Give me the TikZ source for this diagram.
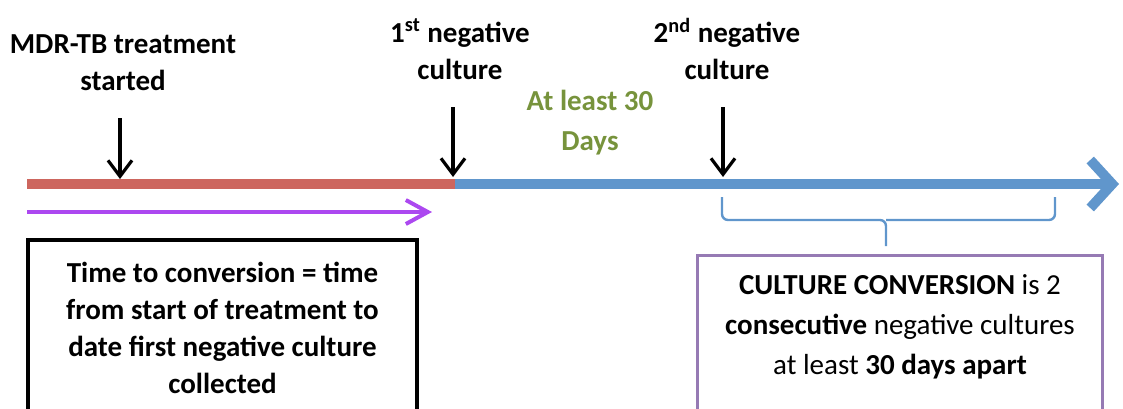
\documentclass[tikz,border=0pt]{standalone}
\usepackage{fontspec}
\setmainfont{Carlito}
\usetikzlibrary{arrows.meta}

\definecolor{barred}{RGB}{205,102,94}
\definecolor{barblue}{RGB}{96,150,204}
\definecolor{spanpurple}{RGB}{172,72,240}
\definecolor{gapgreen}{RGB}{119,147,60}
\definecolor{boxpurple}{RGB}{150,122,180}

\begin{document}
\begin{tikzpicture}[x=0.5pt,y=-0.5pt]
	\useasboundingbox (0,0) rectangle (1123,408);

	% points on the time line
	\coordinate (T0) at (27,184);
	\coordinate (T1) at (455,184);
	\coordinate (T2) at (1119,184);
	\coordinate (P0) at (27,212);
	\coordinate (P1) at (432,212);
	\coordinate (M0a) at (120,118);
	\coordinate (M0) at (120,179);
	\coordinate (M1a) at (453,107);
	\coordinate (M1) at (453,177);
	\coordinate (M2a) at (723,107);
	\coordinate (M2) at (723,177);
	\coordinate (B0) at (722,197);
	\coordinate (B1) at (1055,197);
	\coordinate (BM) at (886,220);
	\coordinate (BT) at (886,246);

	\begin{scope}[every node/.style={align=center,font=\bfseries\fontsize{14.5}{18.5}\selectfont}]
		\node (S) at (123,63) {MDR-TB treatment\\started};
		\node (N1) at (460,49) {1\textsuperscript{st} negative\\culture};
		\node (N2) at (727,49) {2\textsuperscript{nd} negative\\culture};
		\node [text=gapgreen,font=\bfseries\fontsize{14.5}{20}\selectfont] (G) at (590,123) {At least 30\\Days};
	\end{scope}

	\draw [barblue,line width=5pt,-{Straight Barb[length=11pt,width=24pt]}] (T1) -- (T2);
	\draw [barred,line width=5pt] (T0) -- (T1);
	\draw [spanpurple,line width=2pt,-{Straight Barb[length=11pt,width=12pt]}] (P0) -- (P1);

	\begin{scope}[every edge/.style={draw=black,line width=1.6pt,-{Straight Barb[length=8pt,width=12pt]}}]
		\path (M0a) edge (M0);
		\path (M1a) edge (M1);
		\path (M2a) edge (M2);
	\end{scope}

	\begin{scope}[barblue,line width=1.2pt,rounded corners=3pt]
		\draw (B0) |- (BM) -- (BT);
		\draw (B1) |- (BM);
	\end{scope}

	\node [draw=black,line width=2pt,minimum width=194.5pt,minimum height=88pt,align=center,
		font=\bfseries\fontsize{14.5}{18.5}\selectfont] (TC) at (222.5,328)
		{Time to conversion = time\\from start of treatment to\\date first negative culture\\collected};
	\node [draw=boxpurple,line width=1.5pt,minimum width=202.5pt,minimum height=90pt,align=center,
		font=\fontsize{14.5}{20}\selectfont] (CC) at (900,345)
		{\textbf{CULTURE CONVERSION} is 2\\\textbf{consecutive} negative cultures\\at least \textbf{30 days apart}\\\mbox{}};
\end{tikzpicture}
\end{document}
